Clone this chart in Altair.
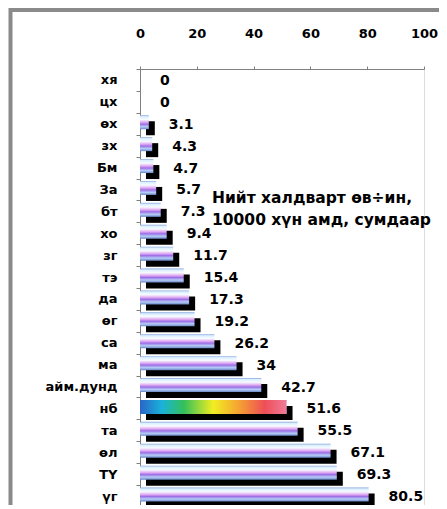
import altair as alt
import pandas as pd

categories = ["хя", "цх", "өх", "зх", "Бм", "За", "бт", "хо", "зг", "тэ",
              "да", "өг", "са", "ма", "айм.дунд", "нб", "та", "өл", "ТҮ", "үг"]
values = [0, 0, 3.1, 4.3, 4.7, 5.7, 7.3, 9.4, 11.7, 15.4,
          17.3, 19.2, 26.2, 34, 42.7, 51.6, 55.5, 67.1, 69.3, 80.5]
x_ticks = [0, 20, 40, 60, 80, 100]
highlight = "нб"
title_lines = ["Нийт халдварт өв÷ин,", "10000 хүн амд, сумдаар"]

df = pd.DataFrame({"cat": categories, "val": values})
df_hl = df[df["cat"] == highlight]
df_title = pd.DataFrame({"t": ["\n".join(title_lines)]})
df_frame = pd.DataFrame({"a": [0]})

FONT = "DejaVu Sans"
BAND = 21.9
H = 436

x_enc = alt.X("val:Q",
              scale=alt.Scale(domain=[0, 100], nice=False, zero=True),
              axis=alt.Axis(orient="top", values=x_ticks, title=None, grid=False,
                            domainColor="#7f7f7f", tickColor="#7f7f7f", tickSize=3,
                            labelFont=FONT, labelFontWeight="bold", labelFontSize=13,
                            labelColor="black", labelPadding=26, labelFlush=False))
y_enc = alt.Y("cat:N", sort=categories,
              scale=alt.Scale(range=[0, BAND * len(categories)], paddingInner=0, paddingOuter=0),
              axis=alt.Axis(title=None, tickBand="extent", domainColor="#7f7f7f",
                            tickColor="#7f7f7f", tickSize=4, labelFont=FONT,
                            labelFontWeight="bold", labelFontSize=13, labelColor="black",
                            labelPadding=19))

frame = alt.Chart(df_frame).mark_rect(fillOpacity=0, stroke="#8a8a8a", strokeWidth=4).encode(
    x=alt.value(-129.5), x2=alt.value(420), y=alt.value(-59), y2=alt.value(520))

shadow = alt.Chart(df).mark_bar(color="black", size=14, xOffset=6, yOffset=4.5).encode(
    x=x_enc, y=y_enc)

bar_grad = alt.LinearGradient(
    gradient="linear", x1=0, y1=0, x2=0, y2=1,
    stops=[alt.GradientStop(offset=0, color="#86a4dc"),
           alt.GradientStop(offset=0.1, color="#d9efff"),
           alt.GradientStop(offset=0.3, color="#f7fbff"),
           alt.GradientStop(offset=0.5, color="#e0a8f2"),
           alt.GradientStop(offset=0.64, color="#9d6fe6"),
           alt.GradientStop(offset=0.82, color="#b4cdf6"),
           alt.GradientStop(offset=1, color="#6a86c6")])

main = alt.Chart(df).mark_bar(color=bar_grad, size=14, yOffset=-1.5).encode(
    x=x_enc, y=y_enc)

rainbow = alt.LinearGradient(
    gradient="linear", x1=0, y1=0, x2=1, y2=0,
    stops=[alt.GradientStop(offset=0, color="#2a64c8"),
           alt.GradientStop(offset=0.15, color="#19b3d9"),
           alt.GradientStop(offset=0.3, color="#34c05a"),
           alt.GradientStop(offset=0.5, color="#f2ee22"),
           alt.GradientStop(offset=0.68, color="#f5a033"),
           alt.GradientStop(offset=0.85, color="#ee4e57"),
           alt.GradientStop(offset=1, color="#f07b9a")])

hl = alt.Chart(df_hl).mark_bar(color=rainbow, size=14, yOffset=-1.5).encode(
    x=x_enc, y=y_enc)

labels = alt.Chart(df).mark_text(align="left", baseline="middle", dx=20, dy=1,
                                 font=FONT, fontWeight="bold", fontSize=14,
                                 color="black").encode(
    x=x_enc, y=y_enc, text=alt.Text("val:Q"))

title = alt.Chart(df_title).mark_text(align="left", baseline="alphabetic", lineBreak="\n",
                                      lineHeight=22, font=FONT, fontWeight="bold",
                                      fontSize=15.5, color="black").encode(
    x=alt.value(72), y=alt.value(134), text="t:N")

chart = alt.layer(frame, shadow, main, hl, labels, title).properties(
    width=284, height=H,
    autosize=alt.AutoSizeParams(type="none"),
    padding={"left": 132, "top": 61, "right": 15, "bottom": 0},
).configure_view(stroke=None).configure(background="white")

chart.save("out.html", embed_options={"renderer": "svg", "actions": False})
